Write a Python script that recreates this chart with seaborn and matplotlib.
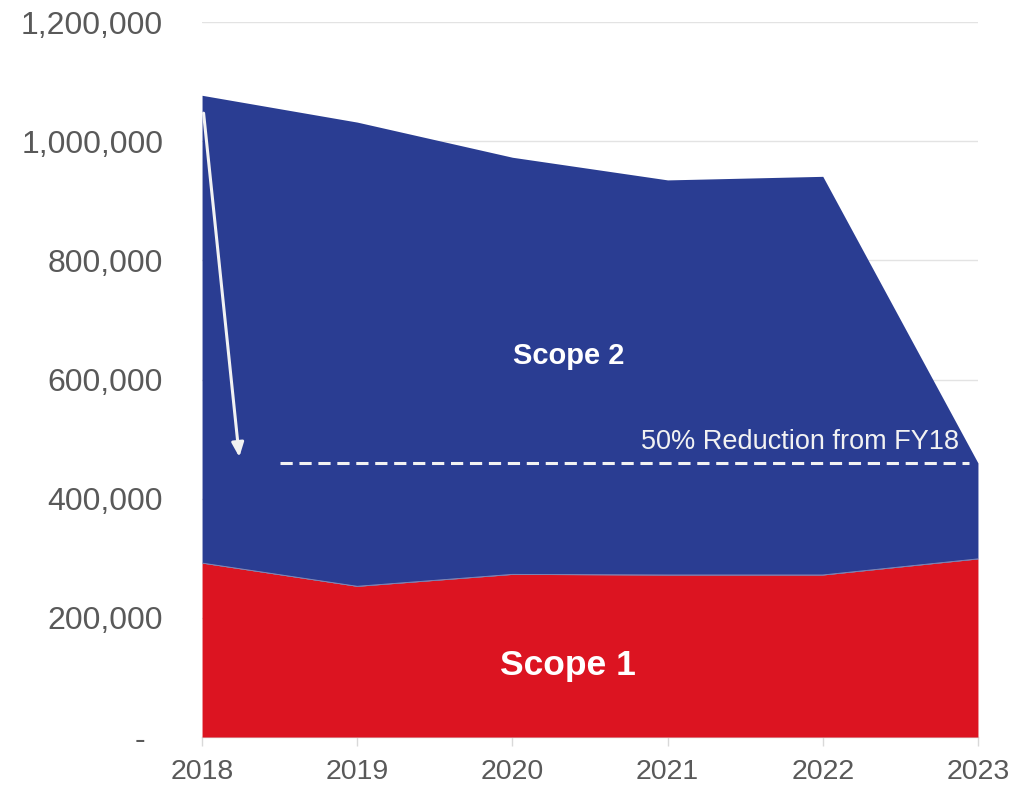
#!/usr/bin/env python3
"""Scope 1 / Scope 2 emissions stacked area, FY18-FY23."""

import matplotlib
matplotlib.use("Agg")
import matplotlib.pyplot as plt
import matplotlib.ticker as mticker
import pandas as pd
import seaborn as sns

years = [2018, 2019, 2020, 2021, 2022, 2023]
scope1 = [292000, 253000, 273000, 272000, 272000, 299000]
scope2 = [785000, 779000, 700000, 663000, 669000, 161000]
target_value = 460000
target_label = "50% Reduction from FY18"

BLUE = "#2A3D92"
RED = "#DC1421"
GREY = "#595959"

sns.set_theme(style="white")
plt.rcParams["font.family"] = ["Liberation Sans", "DejaVu Sans"]

frame = pd.DataFrame({"year": years, "Scope 1": scope1, "Scope 2": scope2})

fig = plt.figure(figsize=(10.34, 7.86), dpi=100)
ax = fig.add_axes([0.1954, 0.0623, 0.7504, 0.9097])

ax.stackplot(frame["year"], frame["Scope 1"], frame["Scope 2"],
             colors=[RED, BLUE], linewidth=0)
# thin seam between the two areas
sns.lineplot(x=frame["year"], y=frame["Scope 1"], ax=ax, color="#8A8FB8",
             linewidth=0.6, zorder=3)

ax.set_xlim(years[0], years[-1])
ax.set_ylim(0, 1200000)
ax.set_yticks(range(0, 1200001, 200000))
ax.set_xticks(years)
ax.yaxis.set_major_formatter(
    mticker.FuncFormatter(lambda v, _: "-  " if v == 0 else f"{int(v):,}"))

ax.grid(axis="y", color="#E3E3E3", linewidth=1)
ax.set_axisbelow(True)
for side in ["top", "right", "left"]:
    ax.spines[side].set_visible(False)
ax.spines["bottom"].set_color("#D9D9D9")
ax.spines["bottom"].set_linewidth(1)
ax.spines["bottom"].set_zorder(0)

ax.tick_params(axis="y", length=0, pad=28, labelsize=23, labelcolor=GREY)
ax.tick_params(axis="x", length=6.5, width=1, color="#D9D9D9", direction="out",
               pad=9, labelsize=20.5, labelcolor=GREY, bottom=True)
ax.set_xlabel("")
ax.set_ylabel("")

# target line and label
ax.hlines(target_value, 2018.5, 2022.94, colors="#F2F2F2", linestyles=(0, (4, 2.2)),
          linewidth=2.2, zorder=4)
ax.text(2022.88, target_value + 14000, target_label, ha="right", va="bottom",
        color="#F2F2F2", fontsize=19.5, zorder=5)

# arrow from FY18 down to target
ax.annotate("", xy=(2018.24, 470000), xytext=(2018.01, 1047000),
            arrowprops=dict(arrowstyle="-|>,head_length=0.7,head_width=0.3",
                            color="#F2F2F2", linewidth=2.2, shrinkA=0, shrinkB=0),
            zorder=5)

ax.text(2020.36, 640000, "Scope 2", ha="center", va="center", color="white",
        fontsize=21, fontweight="bold")
ax.text(2020.36, 120000, "Scope 1", ha="center", va="center", color="white",
        fontsize=25.5, fontweight="bold")

fig.savefig("out.png", dpi=100)
